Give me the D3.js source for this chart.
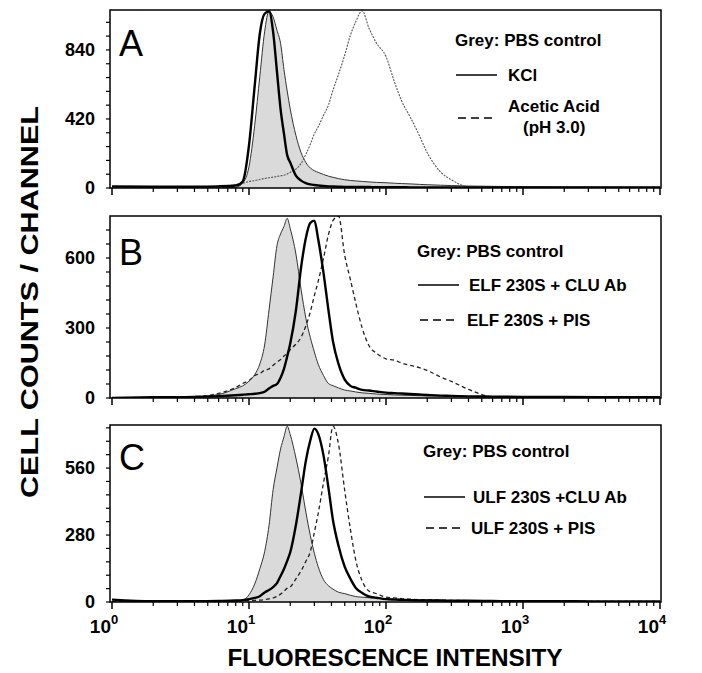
<!DOCTYPE html>
<html>
<head>
<meta charset="utf-8">
<script src="https://cdn.jsdelivr.net/npm/d3@7"></script>
<style>
  body { margin: 0; background: #fff; }
  text { font-family: "Liberation Sans", Arial, sans-serif; fill: #000; }
</style>
</head>
<body>
<div id="chart"></div>
<script>
// Flow cytometry histograms - three stacked panels

// Data: shared fluorescence channels, counts per series
var intensity = [1, 2, 4, 6, 8, 9, 10, 11, 12, 13, 14, 15, 16, 17, 18, 19, 20, 22, 24, 26, 28, 30, 32, 35, 38, 41, 45,
                 50, 55, 60, 67, 75, 85, 100, 115, 130, 150, 175, 200, 250, 300, 400, 600, 1000, 2000, 5000, 10000];

// panel A
var pbsA    = [0, 0, 0, 0, 5, 30, 130, 380, 680, 950, 1075, 1040, 960, 880, 720, 590, 480, 320, 215, 155, 122, 105, 95, 82, 72, 65, 57,
               50, 46, 43, 40, 37, 34, 32, 29, 27, 25, 22, 20, 17, 15, 12, 10, 8, 6, 5, 4];
var kclA    = [10, 8, 8, 10, 15, 40, 260, 620, 940, 1060, 1075, 950, 708, 480, 330, 200, 155, 75, 45, 30, 22, 18, 15, 12, 10, 9, 8,
               7, 7, 6, 6, 6, 5, 5, 5, 5, 4, 4, 4, 4, 4, 3, 3, 3, 3, 3, 3];
var aceticA = [0, 3, 5, 10, 20, 28, 40, 45, 52, 58, 62, 66, 70, 74, 78, 85, 95, 115, 150, 205, 265, 330, 372, 443, 505, 594, 691,
               809, 930, 1010, 1078, 974, 883, 800, 648, 530, 433, 320, 215, 98, 50, 8, 4, 3, 2, 2, 2];

// panel B
var pbsB    = [0, 2, 5, 15, 40, 52, 72, 100, 146, 227, 377, 520, 653, 703, 735, 770, 726, 617, 465, 342, 260, 197, 145, 96, 62, 53, 43,
               34, 30, 26, 22, 20, 17, 15, 13, 12, 11, 10, 9, 8, 7, 6, 5, 4, 3, 3, 2];
var elfClu  = [0, 3, 5, 8, 12, 14, 16, 18, 21, 27, 41, 52, 60, 87, 125, 178, 234, 375, 560, 686, 750, 760, 680, 535, 377, 243, 146,
               79, 52, 44, 35, 32, 28, 23, 21, 19, 17, 15, 13, 10, 9, 7, 6, 5, 4, 3, 3];
var elfPis  = [0, 2, 5, 20, 45, 62, 75, 96, 105, 119, 125, 140, 154, 165, 180, 190, 207, 231, 260, 309, 368, 439, 500, 600, 700, 760, 780,
               610, 507, 410, 300, 225, 192, 168, 162, 150, 140, 130, 118, 90, 71, 37, 5, 3, 2, 2, 2];

// panel C
var pbsC    = [0, 0, 2, 3, 5, 8, 30, 75, 139, 210, 320, 470, 560, 640, 690, 735, 700, 602, 494, 376, 279, 204, 147, 93, 68, 54, 41,
               35, 28, 23, 20, 18, 16, 14, 12, 11, 10, 9, 8, 7, 6, 5, 4, 3, 3, 2, 2];
var ulfClu  = [10, 3, 3, 4, 6, 8, 12, 17, 24, 40, 50, 62, 79, 109, 138, 172, 208, 322, 458, 590, 675, 725, 703, 612, 478, 343, 235,
               147, 97, 60, 38, 23, 18, 12, 10, 9, 8, 7, 6, 6, 5, 5, 4, 3, 3, 2, 2];
var ulfPis  = [0, 0, 2, 3, 4, 5, 6, 7, 8, 10, 13, 17, 23, 33, 45, 58, 63, 97, 130, 170, 210, 292, 370, 500, 610, 735, 660,
               465, 303, 178, 88, 46, 35, 20, 17, 14, 12, 10, 9, 8, 7, 6, 5, 4, 3, 2, 2];

// tick labels
var yTicksA = [0, 420, 840];
var yTicksB = [0, 300, 600];
var yTicksC = [0, 280, 560];
var xExponents = [0, 1, 2, 3, 4];
var panelLetters = ["A", "B", "C"];
var greyLabel = "Grey: PBS control";
var solidLabels = ["KCl", "ELF 230S + CLU Ab", "ULF 230S +CLU Ab"];
var dashedLabels = [["Acetic Acid", "(pH 3.0)"], ["ELF 230S + PIS"], ["ULF 230S + PIS"]];

//
// chart
//
var w = 702;
var h = 673;
var x = d3.scaleLog().domain([1, 10000]).range([112, 660]);

var panels = [
  {top: 10,  bottom: 188, max: 1083, minor: 84, ticks: yTicksA, grey: pbsA, solid: kclA,   dashed: aceticA,
   letterY: 56, legX: 455, legY: 46, solidY: 75, dashY: 118, textX: 508, dashStyle: "2,1.2", dashColor: "#555", dashW: 1.1},
  {top: 216, bottom: 398, max: 780,  minor: 60, ticks: yTicksB, grey: pbsB, solid: elfClu, dashed: elfPis,
   letterY: 265, legX: 417, legY: 257, solidY: 285, dashY: 320, textX: 469, dashStyle: "4,3", dashColor: "#222", dashW: 1.3},
  {top: 425, bottom: 602, max: 740,  minor: 56, ticks: yTicksC, grey: pbsC, solid: ulfClu, dashed: ulfPis,
   letterY: 470, legX: 423, legY: 457, solidY: 497, dashY: 528, textX: 473, dashStyle: "4,3", dashColor: "#222", dashW: 1.3}
];

var svg = d3.select("#chart").append("svg")
    .attr("width", w)
    .attr("height", h);

var minorX = [];
[1, 10, 100, 1000].forEach(function(d) {
  for (var k = 2; k <= 9; k++) minorX.push(d * k);
});

panels.forEach(function(p, pi) {
  var y = d3.scaleLinear().domain([0, p.max]).range([p.bottom, p.top]);
  var g = svg.append("g");

  g.append("clipPath").attr("id", "clip" + pi)
    .append("rect")
    .attr("x", 110).attr("y", p.top)
    .attr("width", 551).attr("height", p.bottom - p.top);

  var plot = g.append("g").attr("clip-path", "url(#clip" + pi + ")");

  var area = d3.area()
      .x(function(d, i) { return x(intensity[i]); })
      .y0(y(0))
      .y1(function(d) { return y(d); })
      .curve(d3.curveMonotoneX);
  var line = d3.line()
      .x(function(d, i) { return x(intensity[i]); })
      .y(function(d) { return y(d); })
      .curve(d3.curveMonotoneX);

  plot.append("path").datum(p.grey)
    .attr("d", area)
    .attr("fill", "#dadada");
  plot.append("path").datum(p.grey)
    .attr("d", line)
    .attr("fill", "none")
    .attr("stroke", "#333")
    .attr("stroke-width", 1);
  plot.append("path").datum(p.dashed)
    .attr("d", line)
    .attr("fill", "none")
    .attr("stroke", p.dashColor)
    .attr("stroke-width", p.dashW)
    .attr("stroke-dasharray", p.dashStyle);
  plot.append("path").datum(p.solid)
    .attr("d", line)
    .attr("fill", "none")
    .attr("stroke", "#000")
    .attr("stroke-width", 2.4);

  // frame
  g.append("rect")
    .attr("x", 110).attr("y", p.top)
    .attr("width", 551).attr("height", p.bottom - p.top)
    .attr("fill", "none")
    .attr("stroke", "#000")
    .attr("stroke-width", 1.5);

  // y ticks
  g.selectAll(".ym").data(d3.range(0, p.max, p.minor)).enter()
    .append("line")
    .attr("x1", 106).attr("x2", 110)
    .attr("y1", function(d) { return y(d); })
    .attr("y2", function(d) { return y(d); })
    .attr("stroke", "#000").attr("stroke-width", 1.2);
  g.selectAll(".yl").data(p.ticks).enter()
    .append("text")
    .attr("x", 95)
    .attr("y", function(d) { return y(d) + 6; })
    .attr("text-anchor", "end")
    .style("font-size", "18px")
    .style("font-weight", "bold")
    .text(function(d) { return d; });

  // x ticks
  g.selectAll(".xm").data(minorX).enter()
    .append("line")
    .attr("x1", function(d) { return x(d); })
    .attr("x2", function(d) { return x(d); })
    .attr("y1", p.bottom).attr("y2", p.bottom + 4)
    .attr("stroke", "#000").attr("stroke-width", 1.2);
  g.selectAll(".xM").data(xExponents).enter()
    .append("line")
    .attr("x1", function(d) { return x(Math.pow(10, d)); })
    .attr("x2", function(d) { return x(Math.pow(10, d)); })
    .attr("y1", p.bottom).attr("y2", p.bottom + 7)
    .attr("stroke", "#000").attr("stroke-width", 1.5);

  // panel letter
  g.append("text")
    .attr("x", 119).attr("y", p.letterY)
    .style("font-size", "36px")
    .text(panelLetters[pi]);

  // legend
  g.append("text")
    .attr("x", p.legX).attr("y", p.legY)
    .style("font-size", "17px").style("font-weight", "bold")
    .text(greyLabel);
  g.append("line")
    .attr("x1", p.legX + 1).attr("x2", p.legX + 42)
    .attr("y1", p.solidY).attr("y2", p.solidY)
    .attr("stroke", "#000").attr("stroke-width", 1.5);
  g.append("text")
    .attr("x", p.textX).attr("y", p.solidY + 6)
    .style("font-size", "17px").style("font-weight", "bold")
    .text(solidLabels[pi]);
  g.append("line")
    .attr("x1", p.legX + 3).attr("x2", p.legX + 42)
    .attr("y1", p.dashY).attr("y2", p.dashY)
    .attr("stroke", "#000").attr("stroke-width", 1.5)
    .attr("stroke-dasharray", "8,5");
  var dl = dashedLabels[pi];
  if (dl.length == 1) {
    g.append("text")
      .attr("x", p.textX - 2).attr("y", p.dashY + 6)
      .style("font-size", "17px").style("font-weight", "bold")
      .text(dl[0]);
  } else {
    g.append("text")
      .attr("x", p.textX).attr("y", p.dashY - 6)
      .style("font-size", "17px").style("font-weight", "bold")
      .text(dl[0]);
    g.append("text")
      .attr("x", p.textX + 15).attr("y", p.dashY + 15)
      .style("font-size", "17px").style("font-weight", "bold")
      .text(dl[1]);
  }
});

// x tick labels (bottom panel only)
var xl = svg.selectAll(".xlab").data(xExponents).enter()
  .append("text")
  .attr("x", function(d) { return x(Math.pow(10, d)) - 8; })
  .attr("y", 633)
  .attr("text-anchor", "middle")
  .style("font-size", "19px")
  .style("font-weight", "bold");
xl.append("tspan").text("10");
xl.append("tspan")
  .attr("dy", -9)
  .style("font-size", "13px")
  .text(function(d) { return d; });

// axis titles
svg.append("text")
  .attr("transform", "translate(38,302) rotate(-90)")
  .attr("text-anchor", "middle")
  .attr("textLength", 392)
  .attr("lengthAdjust", "spacingAndGlyphs")
  .style("font-size", "23px")
  .style("font-weight", "bold")
  .text("CELL COUNTS / CHANNEL");

svg.append("text")
  .attr("x", 395).attr("y", 666)
  .attr("text-anchor", "middle")
  .attr("textLength", 335)
  .attr("lengthAdjust", "spacingAndGlyphs")
  .style("font-size", "23px")
  .style("font-weight", "bold")
  .text("FLUORESCENCE INTENSITY");

// end of chart
</script>
</body>
</html>
